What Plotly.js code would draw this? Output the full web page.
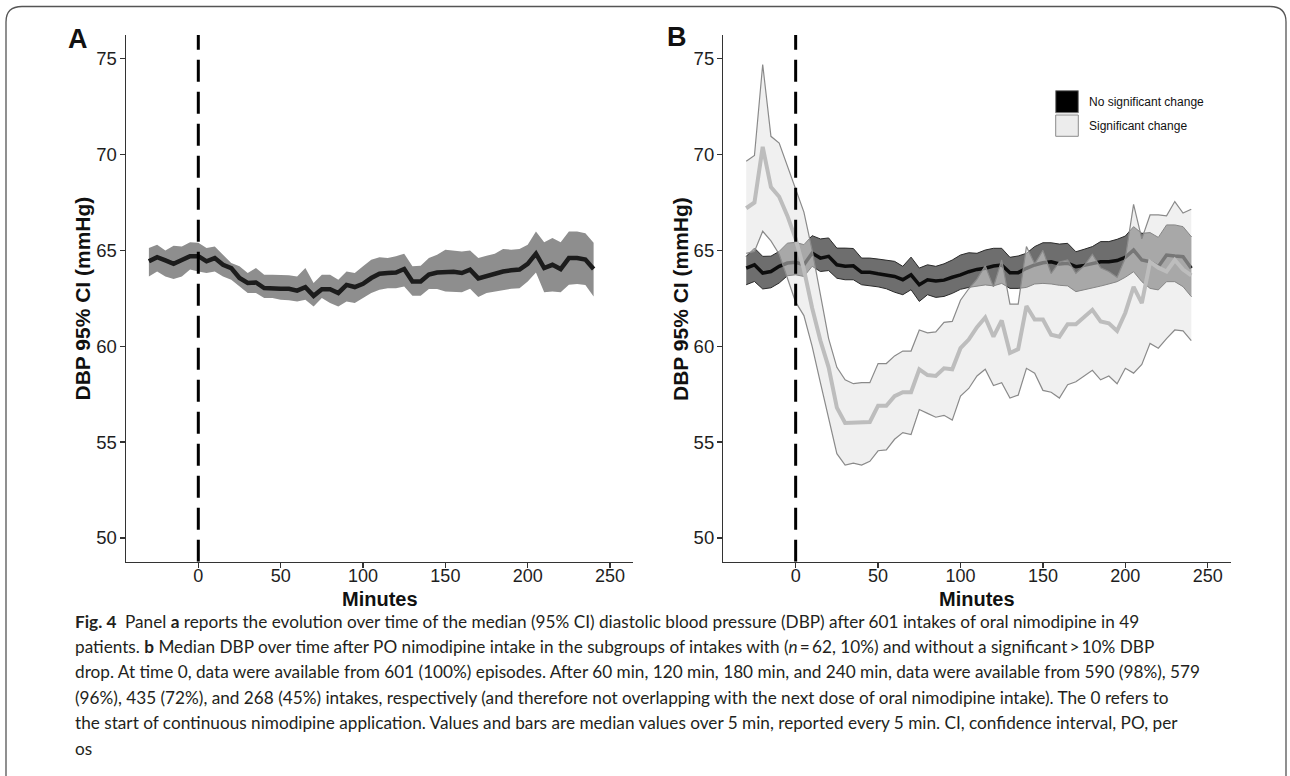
<!DOCTYPE html>
<html>
<head>
<meta charset="utf-8">
<script src="https://cdn.plot.ly/plotly-3.0.1.min.js"></script>
<style>
html,body{margin:0;padding:0;background:#fff;}
#chart{width:1290px;height:776px;}
</style>
</head>
<body>
<div id="chart"></div>
<script>
// ---------------- DATA ----------------
const minutes = [-30,-25,-20,-15,-10,-5,0,5,10,15,20,25,30,35,40,45,50,55,60,65,70,75,80,85,90,95,100,105,110,115,120,125,130,135,140,145,150,155,160,165,170,175,180,185,190,195,200,205,210,215,220,225,230,235,240];

// Panel A: all intakes
const allMedian = [64.43,64.65,64.48,64.30,64.50,64.70,64.70,64.43,64.60,64.25,64.08,63.56,63.30,63.33,63.04,63.00,63.00,63.00,62.90,63.08,62.63,62.98,62.98,62.78,63.20,63.09,63.26,63.56,63.78,63.82,63.85,64.03,63.38,63.38,63.74,63.85,63.89,63.89,63.82,64.00,63.54,63.68,63.78,63.90,63.96,64.00,64.30,64.83,64.08,64.25,64.03,64.60,64.60,64.52,64.03];
const allUpper  = [65.12,65.30,65.00,65.25,65.20,65.42,65.40,65.12,65.20,64.78,64.34,64.17,63.82,64.08,63.73,63.73,63.73,63.70,63.64,64.08,63.30,63.73,63.73,63.47,63.90,63.82,64.17,64.51,64.65,64.60,64.70,64.83,64.17,64.20,64.60,64.78,65.04,65.00,64.95,65.00,64.60,64.72,64.83,65.07,65.04,65.07,65.30,65.99,65.42,65.65,65.42,65.99,65.99,65.90,65.40];
const allLower  = [63.64,63.90,63.64,63.51,63.64,64.00,63.90,63.82,63.90,63.64,63.47,63.12,62.78,62.78,62.52,62.52,62.43,62.40,62.34,62.43,62.08,62.52,62.26,62.08,62.34,62.26,62.52,62.78,62.95,63.03,63.03,63.12,62.64,62.64,62.99,62.99,62.86,62.84,62.82,63.00,62.57,62.78,62.86,62.90,63.00,63.03,63.38,63.85,62.82,62.86,62.82,63.21,63.25,63.20,62.60];

// Panel B: no significant change
const noSigMedian = [64.08,64.25,63.82,63.90,64.17,64.34,64.38,64.25,64.86,64.60,64.69,64.25,64.17,64.20,63.86,63.86,63.78,63.73,63.64,63.47,63.73,63.21,63.47,63.40,63.45,63.60,63.72,63.89,64.01,64.07,64.19,64.24,63.84,63.84,64.07,64.24,64.36,64.41,64.29,64.33,64.15,64.22,64.33,64.41,64.41,64.47,64.64,65.02,64.50,64.41,64.15,64.76,64.71,64.67,64.07];
const noSigUpper  = [64.69,65.12,64.69,64.70,64.95,65.38,65.42,65.30,65.77,65.60,65.65,65.12,65.12,65.10,64.60,64.60,64.55,64.50,64.43,64.17,64.65,64.08,64.25,64.17,64.30,64.50,64.76,64.88,64.85,65.02,65.11,65.11,64.64,64.71,64.85,65.20,65.40,65.40,65.33,65.37,64.93,65.06,65.20,65.46,65.46,65.58,65.75,66.24,65.89,65.93,65.68,66.33,66.33,66.24,65.72];
const noSigLower  = [63.21,63.38,62.99,63.05,63.30,63.68,63.73,63.64,64.17,63.90,63.95,63.55,63.47,63.47,63.21,63.15,63.10,63.00,62.82,62.69,62.95,62.34,62.69,62.55,62.60,62.76,62.97,63.07,63.14,63.20,63.15,63.28,63.02,63.02,63.07,63.25,63.28,63.25,63.18,63.15,62.85,62.94,63.02,63.14,63.25,63.37,63.60,63.89,63.37,63.02,62.94,63.37,63.37,63.11,62.59];

// Panel B: significant change
const sigMedian = [67.20,67.50,70.40,68.30,67.80,66.80,65.60,64.00,62.00,60.30,58.90,56.80,56.00,56.00,56.00,56.05,56.90,56.90,57.40,57.60,57.60,58.80,58.50,58.45,58.85,58.80,59.90,60.35,61.00,61.50,60.50,61.35,59.65,59.85,62.10,61.40,61.40,60.60,60.50,61.15,61.15,61.55,61.90,61.30,61.20,60.80,61.75,63.10,62.25,64.40,64.10,63.90,64.50,64.00,63.70];
const sigUpper  = [69.65,69.95,74.70,70.95,70.60,69.40,68.10,67.00,65.00,62.70,60.40,58.90,58.25,58.05,58.10,58.10,59.10,59.10,59.50,59.75,59.75,60.85,60.70,60.75,61.25,61.30,62.40,63.00,63.50,64.20,63.10,64.50,62.20,62.20,65.20,64.30,65.00,63.80,64.40,64.50,63.80,64.20,64.80,64.10,63.90,63.60,64.60,67.40,65.60,66.85,66.85,66.80,67.55,66.95,67.15];
const sigLower  = [64.85,64.95,66.00,65.50,64.80,63.60,62.30,61.60,60.00,58.10,56.20,54.40,53.80,53.90,53.80,54.00,54.55,54.60,55.15,55.50,55.40,56.70,56.50,56.30,56.40,56.15,57.40,57.80,58.45,58.80,57.95,58.10,57.30,57.45,58.85,58.60,57.70,57.60,57.30,58.00,58.15,58.45,58.75,58.25,58.45,58.05,58.85,58.60,59.05,60.15,59.90,60.40,60.85,60.80,60.30];

const xTicks = [0,50,100,150,200,250];
const yTicks = [50,55,60,65,70,75];
const legendLabels = ["No significant change","Significant change"];
const panelLabels = ["A","B"];
const yTitle = "DBP 95% CI (mmHg)";
const xTitle = "Minutes";
const captionLines = [
  "<b>Fig. 4</b>\u2002Panel <b>a</b> reports the evolution over time of the median (95% CI) diastolic blood pressure (DBP) after 601 intakes of oral nimodipine in 49",
  "patients. <b>b</b> Median DBP over time after PO nimodipine intake in the subgroups of intakes with (<i>n</i>\u2009=\u200962, 10%) and without a significant\u2009&gt;\u200910% DBP",
  "drop. At time 0, data were available from 601 (100%) episodes. After 60 min, 120 min, 180 min, and 240 min, data were available from 590 (98%), 579",
  "(96%), 435 (72%), and 268 (45%) intakes, respectively (and therefore not overlapping with the next dose of oral nimodipine intake). The 0 refers to",
  "the start of continuous nimodipine application. Values and bars are median values over 5 min, reported every 5 min. CI, confidence interval, PO, per",
  "os"
];

// ---------------- LAYOUT HELPERS ----------------
const W = 1290, H = 776;
const PX = p => p / W;
const PY = p => 1 - p / H;
const xRange = [-43.9, 264.1];
const yRange = [48.764, 76.236];
const yDom = [PY(561.7), PY(35)];

function ribbon(xa, ya, lo, up, fillColor, lineColor, lineW) {
  return [
    {x: minutes, y: lo, xaxis: xa, yaxis: ya, type: 'scatter', mode: 'lines',
     line: {color: lineColor, width: lineW}, hoverinfo: 'skip'},
    {x: minutes, y: up, xaxis: xa, yaxis: ya, type: 'scatter', mode: 'lines',
     fill: 'tonexty', fillcolor: fillColor,
     line: {color: lineColor, width: lineW}, hoverinfo: 'skip'}
  ];
}
function medLine(xa, ya, y, color, w) {
  return {x: minutes, y: y, xaxis: xa, yaxis: ya, type: 'scatter', mode: 'lines',
          line: {color: color, width: w}, hoverinfo: 'skip'};
}

const traces = [
  ...ribbon('x', 'y', allLower, allUpper, '#8e8e8e', 'rgba(0,0,0,0)', 0),
  medLine('x', 'y', allMedian, '#1c1c1c', 4.5),
  ...ribbon('x2', 'y2', noSigLower, noSigUpper, '#6e6e6e', '#2a2a2a', 1),
  medLine('x2', 'y2', noSigMedian, '#0d0d0d', 3.5),
  ...ribbon('x2', 'y2', sigLower, sigUpper, 'rgba(226,226,226,0.5)', '#8a8a8a', 1.2),
  medLine('x2', 'y2', sigMedian, '#bdbdbd', 4)
];

const tickFont = {family: 'Liberation Sans, Arial, sans-serif', size: 18, color: '#1e1e1e'};
function xAxis(dom, anchor) {
  return {domain: dom, range: xRange, anchor: anchor, tickvals: xTicks, ticktext: xTicks.map(String),
          showline: true, linecolor: '#333', linewidth: 1.4, ticks: 'outside', ticklen: 5,
          tickwidth: 1.3, tickcolor: '#333', showgrid: false, zeroline: false, tickfont: tickFont,
          ticklabelstandoff: -8, fixedrange: true};
}
function yAxis(anchor) {
  return {domain: yDom, range: yRange, anchor: anchor, tickvals: yTicks, ticktext: yTicks.map(String),
          showline: true, linecolor: '#333', linewidth: 1.4, ticks: 'outside', ticklen: 5,
          tickwidth: 1.3, tickcolor: '#333', showgrid: false, zeroline: false,
          tickfont: {family: 'Liberation Sans, Arial, sans-serif', size: 18.5, color: '#1e1e1e'},
          ticklabelstandoff: -1, fixedrange: true};
}

const shapes = [
  {type: 'line', xref: 'x', yref: 'y', x0: 0, x1: 0, y0: yRange[0], y1: yRange[1],
   line: {color: '#000', width: 3, dash: '22px,10px'}},
  {type: 'line', xref: 'x2', yref: 'y2', x0: 0, x1: 0, y0: yRange[0], y1: yRange[1],
   line: {color: '#000', width: 3, dash: '22px,10px'}},
  // legend keys
  {type: 'rect', xref: 'paper', yref: 'paper', x0: PX(1055.7), x1: PX(1078.3), y0: PY(112.7), y1: PY(90.7),
   fillcolor: '#000', line: {color: '#7a7a7a', width: 1}},
  {type: 'rect', xref: 'paper', yref: 'paper', x0: PX(1055.7), x1: PX(1078.3), y0: PY(136.3), y1: PY(115),
   fillcolor: '#ececec', line: {color: '#8c8c8c', width: 1}},
  // figure frame
  {type: 'path', xref: 'paper', yref: 'paper',
   path: `M ${PX(6)},${PY(800)} L ${PX(6)},${PY(22)} Q ${PX(6)},${PY(6.5)} ${PX(22)},${PY(6.5)} L ${PX(1270)},${PY(6.5)} Q ${PX(1286)},${PY(6.5)} ${PX(1286)},${PY(22)} L ${PX(1286)},${PY(800)}`,
   line: {color: '#555', width: 1.3}}
];

const ann = [];
const boldFont = (s) => ({family: 'Liberation Sans, Arial, sans-serif', size: s, color: '#111'});
ann.push({xref: 'paper', yref: 'paper', x: PX(78), y: PY(39), text: '<b>' + panelLabels[0] + '</b>', showarrow: false, font: boldFont(27), xanchor: 'center', yanchor: 'middle'});
ann.push({xref: 'paper', yref: 'paper', x: PX(677), y: PY(37), text: '<b>' + panelLabels[1] + '</b>', showarrow: false, font: boldFont(27), xanchor: 'center', yanchor: 'middle'});
ann.push({xref: 'paper', yref: 'paper', x: PX(81.5), y: PY(299), text: '<b>' + yTitle + '</b>', textangle: -90, showarrow: false, font: boldFont(21), xanchor: 'center', yanchor: 'middle'});
ann.push({xref: 'paper', yref: 'paper', x: PX(680), y: PY(299), text: '<b>' + yTitle + '</b>', textangle: -90, showarrow: false, font: boldFont(21), xanchor: 'center', yanchor: 'middle'});
ann.push({xref: 'paper', yref: 'paper', x: PX(379.5), y: PY(598.5), text: '<b>' + xTitle + '</b>', showarrow: false, font: boldFont(20), xanchor: 'center', yanchor: 'middle'});
ann.push({xref: 'paper', yref: 'paper', x: PX(977), y: PY(598.5), text: '<b>' + xTitle + '</b>', showarrow: false, font: boldFont(20), xanchor: 'center', yanchor: 'middle'});
ann.push({xref: 'paper', yref: 'paper', x: PX(1087), y: PY(101.7), text: legendLabels[0], showarrow: false, font: {family: 'Liberation Sans, Arial, sans-serif', size: 12, color: '#111'}, xanchor: 'left', yanchor: 'middle'});
ann.push({xref: 'paper', yref: 'paper', x: PX(1087), y: PY(126), text: legendLabels[1], showarrow: false, font: {family: 'Liberation Sans, Arial, sans-serif', size: 12, color: '#111'}, xanchor: 'left', yanchor: 'middle'});
const capY = [621, 646, 671.5, 697, 722.5, 748];
captionLines.forEach((t, i) => {
  ann.push({xref: 'paper', yref: 'paper', x: PX(73), y: PY(capY[i]), text: t, showarrow: false,
            font: {family: 'Lato, "Noto Sans", sans-serif', size: 17.2, color: '#231f20'},
            xanchor: 'left', yanchor: 'middle', align: 'left'});
});

const layout = {
  width: W, height: H,
  margin: {l: 0, r: 0, t: 0, b: 0, pad: 0},
  paper_bgcolor: '#fff', plot_bgcolor: 'rgba(0,0,0,0)',
  showlegend: false,
  xaxis: xAxis([PX(126), PX(633.3)], 'y'),
  yaxis: yAxis('x'),
  xaxis2: xAxis([PX(723.3), PX(1231)], 'y2'),
  yaxis2: yAxis('x2'),
  shapes: shapes,
  annotations: ann
};

Plotly.newPlot('chart', traces, layout, {displayModeBar: false, staticPlot: true});
</script>
</body>
</html>
